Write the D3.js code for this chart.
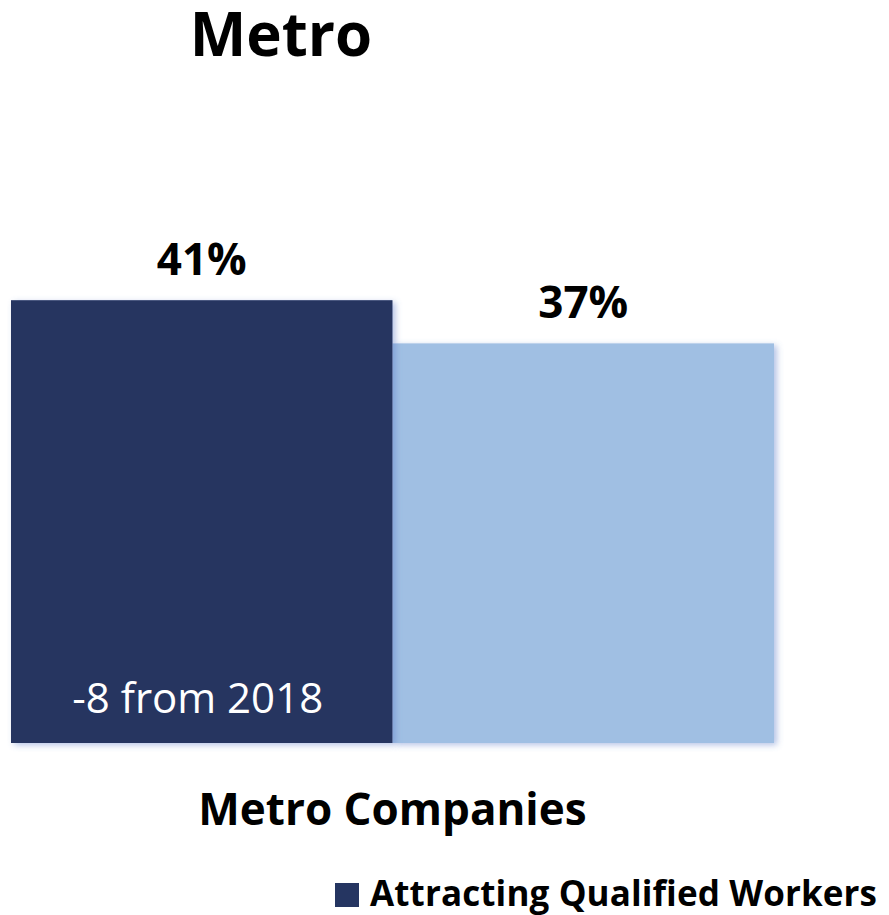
<!DOCTYPE html>
<html>
<head>
<meta charset="utf-8">
<script src="https://cdn.jsdelivr.net/npm/d3@7"></script>
<style>
  html, body { margin: 0; padding: 0; background: #fff; }
  svg { display: block; font-family: "Open Sans", "Liberation Sans", sans-serif; }
</style>
</head>
<body>
<svg id="chart" width="889" height="915"></svg>
<script>
// Chart data
const title = "Metro";
const groupLabel = "Metro Companies";
const seriesKeys = ["Attracting Qualified Workers", "Comparison"];
const seriesValues = [41, 37];
const seriesColors = ["#253561", "#A0BFE3"];
const valueLabels = ["41%", "37%"];
const barNotes = ["-8 from 2018", ""];
const legendKeys = ["Attracting Qualified Workers"];

const svg = d3.select("#chart");

const plot = { left: 11, right: 774, top: 203, bottom: 743 };

const x = d3.scaleBand()
  .domain(seriesKeys)
  .range([plot.left, plot.right])
  .padding(0);

const y = d3.scaleLinear()
  .domain([0, 50])
  .range([plot.bottom, plot.top]);

// soft shadow behind the bars
const defs = svg.append("defs");
const f = defs.append("filter").attr("id", "shadow")
  .attr("x", "-10%").attr("y", "-10%").attr("width", "130%").attr("height", "130%");
f.append("feDropShadow")
  .attr("dx", 3).attr("dy", 2).attr("stdDeviation", 3)
  .attr("flood-color", "#5a78c8").attr("flood-opacity", 0.45);

// Title
svg.append("text")
  .attr("x", 281).attr("y", 56)
  .attr("text-anchor", "middle")
  .attr("font-size", 60).attr("font-weight", 700)
  .attr("fill", "#000")
  .text(title);

const data = seriesKeys.map((k, i) => ({
  key: k, value: seriesValues[i], color: seriesColors[i],
  label: valueLabels[i], note: barNotes[i]
}));

// Bars (light bar drawn first so the dark bar's shadow sits over it)
svg.append("g").selectAll("rect")
  .data(data.slice().reverse())
  .join("rect")
  .attr("x", d => x(d.key))
  .attr("y", d => y(d.value))
  .attr("width", x.bandwidth())
  .attr("height", d => y(0) - y(d.value))
  .attr("fill", d => d.color)
  .attr("filter", "url(#shadow)");

// Value labels above bars
svg.append("g").selectAll("text")
  .data(data)
  .join("text")
  .attr("x", d => x(d.key) + x.bandwidth() / 2)
  .attr("y", d => y(d.value) - 25)
  .attr("text-anchor", "middle")
  .attr("font-size", 44).attr("font-weight", 700)
  .attr("fill", "#000")
  .text(d => d.label);

// Note inside the first bar
svg.append("g").selectAll("text")
  .data(data.filter(d => d.note))
  .join("text")
  .attr("x", d => x(d.key) + x.bandwidth() / 2 - 4)
  .attr("y", 713)
  .attr("text-anchor", "middle")
  .attr("font-size", 42).attr("font-weight", 400)
  .attr("fill", "#fff")
  .text(d => d.note);

// Category axis label
svg.append("text")
  .attr("x", (plot.left + plot.right) / 2)
  .attr("y", 825)
  .attr("text-anchor", "middle")
  .attr("font-size", 44).attr("font-weight", 700)
  .attr("fill", "#000")
  .text(groupLabel);

// Legend
const legend = svg.append("g");
legendKeys.forEach((k, i) => {
  const idx = seriesKeys.indexOf(k);
  legend.append("rect")
    .attr("x", 335).attr("y", 883)
    .attr("width", 24).attr("height", 24)
    .attr("fill", seriesColors[idx]);
  legend.append("text")
    .attr("x", 370).attr("y", 906)
    .attr("font-size", 35).attr("font-weight", 700)
    .attr("textLength", 507).attr("lengthAdjust", "spacing")
    .attr("fill", "#000")
    .text(k);
});
</script>
</body>
</html>
